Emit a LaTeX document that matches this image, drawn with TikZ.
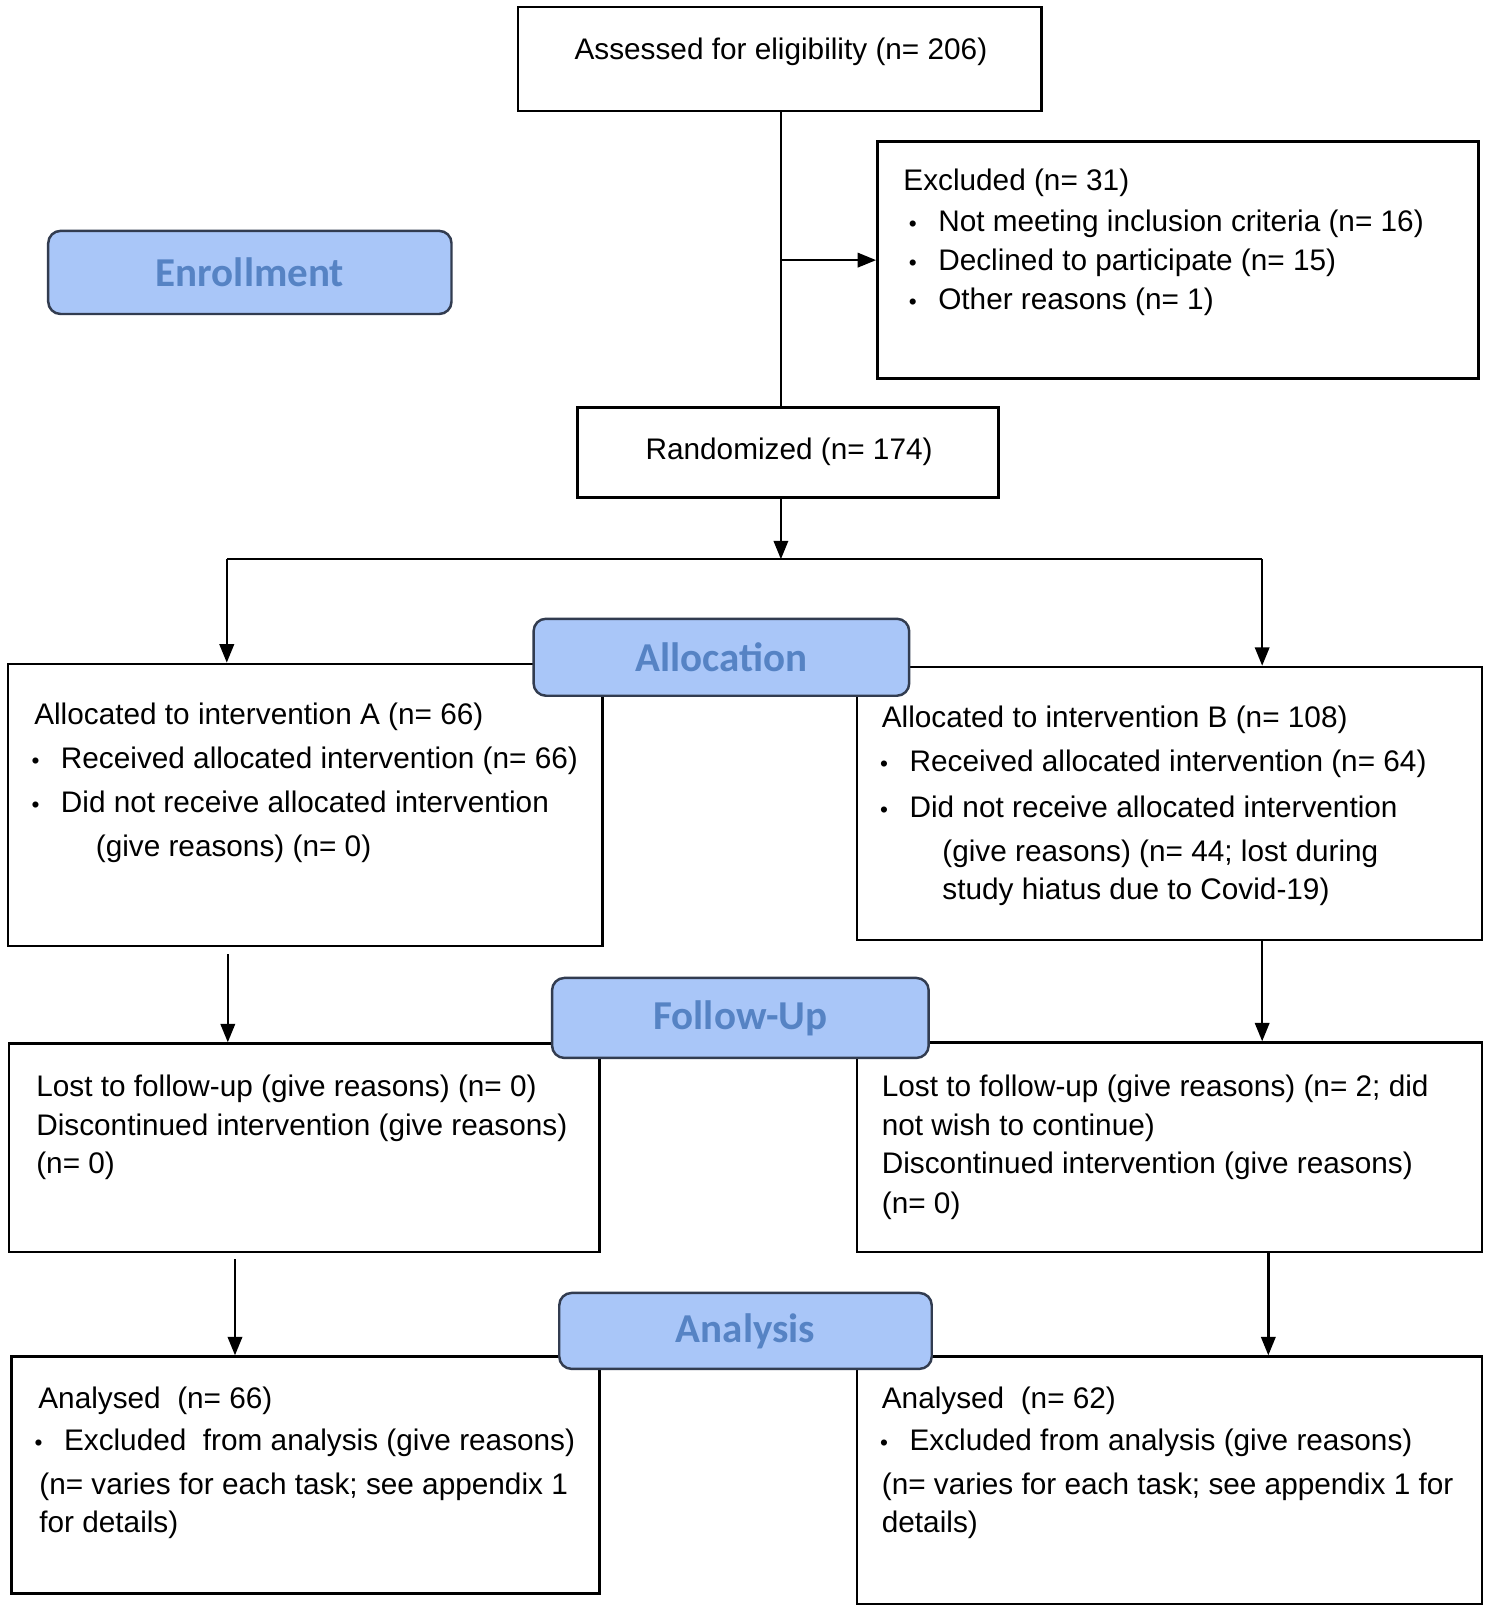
\documentclass[tikz,border=0pt]{standalone}
\usepackage{fontspec}
\setmainfont{Liberation Sans}
\newfontfamily\lblfont{Carlito}
\usetikzlibrary{arrows.meta}
\definecolor{lblfill}{RGB}{169,198,248}
\definecolor{lbltext}{RGB}{86,131,196}
\definecolor{lbldraw}{RGB}{50,60,80}
\newcommand\bul{\llap{{\fontsize{11}{11}\selectfont\textbullet}\hspace{10.5pt}}}
\begin{document}
\begin{tikzpicture}[x=0.5pt,y=-0.5pt,
  box/.style={draw=black, line width=1.2pt, rectangle, inner sep=0pt, fill=white},
  lbl/.style={draw=lbldraw, line width=1.2pt, fill=lblfill, rounded corners=6pt, inner sep=0pt,
    font=\lblfont\bfseries\fontsize{20}{24}\selectfont, text=lbltext},
  txt/.style={anchor=base west, inner sep=0pt, font=\fontsize{14.5}{18}\selectfont},
  ctxt/.style={anchor=base, inner sep=0pt, font=\fontsize{14.5}{18}\selectfont},
  arr/.style={-{Triangle[width=7pt,length=9pt]}, line width=1.2pt},
  ln/.style={line width=1.2pt}]
\useasboundingbox[fill=white] (0,0) rectangle (1450,1568);

% boxes
\node[box, minimum width=255pt, minimum height=50.5pt] (assess) at (760,57.5) {};
\node[box, minimum width=293pt, minimum height=115.5pt] (excl) at (1148,253.5) {};
\node[box, minimum width=205pt, minimum height=44pt] (rand) at (768,441) {};
\node[box, minimum width=289.5pt, minimum height=137.5pt] (allocA) at (297.5,784.5) {};
\node[box, minimum width=304.5pt, minimum height=133pt] (allocB) at (1139.5,783) {};
\node[box, minimum width=287.5pt, minimum height=101.5pt] (fuA) at (296.5,1118.5) {};
\node[box, minimum width=304.5pt, minimum height=102pt] (fuB) at (1139.5,1118) {};
\node[box, minimum width=286.5pt, minimum height=115.5pt] (anA) at (297.5,1437.5) {};
\node[box, minimum width=304.5pt, minimum height=120.5pt] (anB) at (1139.5,1442.5) {};

% texts
\node[ctxt] (tAs) at (761,58) {Assessed for eligibility (n= 206)};
\node[txt] (tEx1) at (880,186) {Excluded (n= 31)};
\node[txt] (tEx2) at (914,226) {\bul Not meeting inclusion criteria (n= 16)};
\node[txt] (tEx3) at (914,264) {\bul Declined to participate (n= 15)};
\node[txt] (tEx4) at (914,302) {\bul Other reasons (n= 1)};
\node[ctxt] (tRa) at (769,448) {Randomized (n= 174)};

\node[txt] (tA1) at (33,706) {Allocated to intervention A (n= 66)};
\node[txt] (tA2) at (59,749) {\bul Received allocated intervention (n= 66)};
\node[txt] (tA3) at (59,792) {\bul Did not receive allocated intervention};
\node[txt] (tA4) at (93,835) {(give reasons) (n= 0)};

\node[txt] (tB1) at (859,709) {Allocated to intervention B (n= 108)};
\node[txt] (tB2) at (886,752) {\bul Received allocated intervention (n= 64)};
\node[txt] (tB3) at (886,797) {\bul Did not receive allocated intervention};
\node[txt] (tB4) at (918,840) {(give reasons) (n= 44; lost during};
\node[txt] (tB5) at (918,877) {study hiatus due to Covid-19)};

\node[txt] (tFA1) at (35,1069) {Lost to follow-up (give reasons) (n= 0)};
\node[txt] (tFA2) at (35,1107) {Discontinued intervention (give reasons)};
\node[txt] (tFA3) at (35,1144) {(n= 0)};

\node[txt] (tFB1) at (859,1069) {Lost to follow-up (give reasons) (n= 2; did};
\node[txt] (tFB2) at (859,1107) {not wish to continue)};
\node[txt] (tFB3) at (859,1144) {Discontinued intervention (give reasons)};
\node[txt] (tFB4) at (859,1183) {(n= 0)};

\node[txt] (tNA1) at (37,1373) {Analysed\ \ (n= 66)};
\node[txt] (tNA2) at (62,1414) {\bul Excluded\ \ from analysis (give reasons)};
\node[txt] (tNA3) at (38,1456) {(n= varies for each task; see appendix 1};
\node[txt] (tNA4) at (38,1493) {for details)};

\node[txt] (tNB1) at (859,1373) {Analysed\ \ (n= 62)};
\node[txt] (tNB2) at (886,1414) {\bul Excluded from analysis (give reasons)};
\node[txt] (tNB3) at (859,1456) {(n= varies for each task; see appendix 1 for};
\node[txt] (tNB4) at (859,1493) {details)};

% connectors
\coordinate (j1) at (761,253.5);
\coordinate (split) at (761,545);
\coordinate (sL) at (221,545);
\coordinate (sR) at (1230,545);
\coordinate (gA1) at (222,930);
\coordinate (gA2) at (229,1227);
\coordinate (gB2) at (1236,1220);

\draw[ln] (assess.south -| j1) -- (rand.north -| j1);
\draw[arr] (j1) -- (excl.west);
\draw[arr] (rand.south -| split) -- (split);
\draw[ln] (sL) -- (sR);
\draw[arr] (sL) -- (sL |- allocA.north);
\draw[arr] (sR) -- (sR |- allocB.north);
\draw[arr] (gA1) -- (gA1 |- fuA.north);
\draw[arr] (allocB.south -| sR) -- (fuB.north -| sR);
\draw[arr] (gA2) -- (gA2 |- anA.north);
\draw[arr] (gB2) -- (gB2 |- anB.north);

% labels
\node[lbl, minimum width=196.5pt, minimum height=40.5pt] (enroll) at (243.5,265.5) {Enrollment};
\node[lbl, minimum width=183pt, minimum height=37.5pt] (alloc) at (703,640.5) {Allocation};
\node[lbl, minimum width=183.5pt, minimum height=39pt] (follow) at (721.5,992) {Follow-Up};
\node[lbl, minimum width=181.5pt, minimum height=37pt] (analysis) at (726.5,1297) {Analysis};
\end{tikzpicture}
\end{document}
